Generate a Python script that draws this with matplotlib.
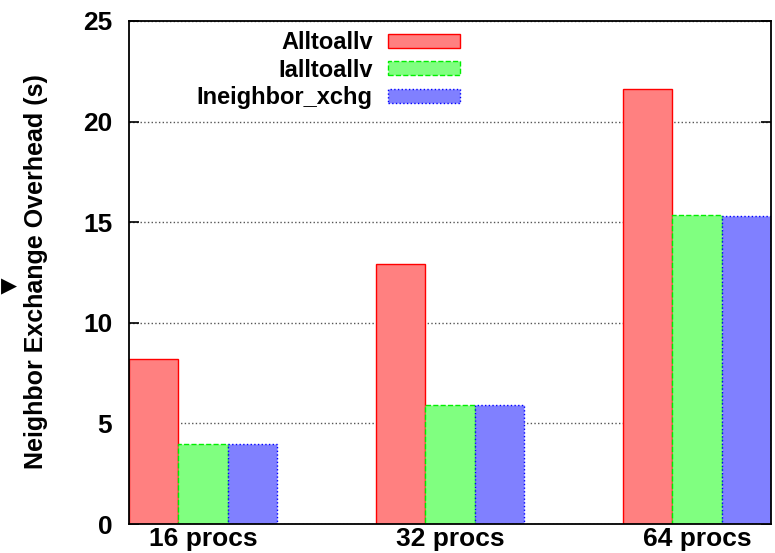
import matplotlib
matplotlib.use("Agg")
import matplotlib.pyplot as plt
import numpy as np

groups = ["16 procs", "32 procs", "64 procs"]
series = ["Alltoallv", "Ialltoallv", "Ineighbor_xchg"]
alltoallv = [8.2, 12.9, 21.6]
ialltoallv = [4.0, 5.9, 15.35]
ineighbor = [4.0, 5.9, 15.3]

faces = ["#ff8080", "#80ff80", "#8080ff"]
edges = ["#ff0000", "#00ee00", "#0000ff"]
styles = ["-", "--", ":"]

plt.rcParams["font.family"] = ["Liberation Sans", "DejaVu Sans"]
plt.rcParams["font.weight"] = "bold"

fig = plt.figure(figsize=(7.75, 5.53), dpi=100)
ax = fig.add_axes([129 / 775, 29 / 553, 642 / 775, 503 / 553])

x = np.arange(len(groups))
w = 0.2
for i, (vals, name) in enumerate(zip([alltoallv, ialltoallv, ineighbor], series)):
    ax.bar(x + (i - 1) * w, vals, width=w, color=faces[i], edgecolor=edges[i],
           linestyle=styles[i], linewidth=1.0, label=name, zorder=2)

ax.set_xlim(-0.3, 2.3)
ax.set_ylim(0, 25)
ax.set_yticks([0, 5, 10, 15, 20, 25])
ax.set_xticks(x)
ax.set_xticklabels(groups)
ax.tick_params(axis="y", direction="in", length=7, width=1.2, right=True,
               labelsize=19, pad=12)
ax.tick_params(axis="x", length=0, labelsize=19, pad=2)
for t in ax.get_xticklabels() + ax.get_yticklabels():
    t.set_fontweight("bold")
ax.yaxis.grid(True, linestyle=":", color="#555555", linewidth=1.0)
ax.set_axisbelow(True)
for s in ax.spines.values():
    s.set_linewidth(1.3)

fig.text(36 / 775, 1 - 272 / 553, "Neighbor Exchange Overhead (s)",
         rotation=90, ha="center", va="center", fontsize=18, fontweight="bold")
fig.text(0.0015, 1 - 286 / 553, "\u25b6", ha="left", va="center",
         fontsize=15, family="DejaVu Sans")

leg = ax.legend(loc="upper right", bbox_to_anchor=((460 - 129) / 642, 1 - 10 / 503),
                frameon=False, markerfirst=False, fontsize=17,
                handlelength=3.05, handleheight=0.55, handletextpad=0.65,
                labelspacing=0.2, borderaxespad=0, borderpad=0)
for t in leg.get_texts():
    t.set_fontweight("bold")

fig.savefig("out.png", dpi=100)
